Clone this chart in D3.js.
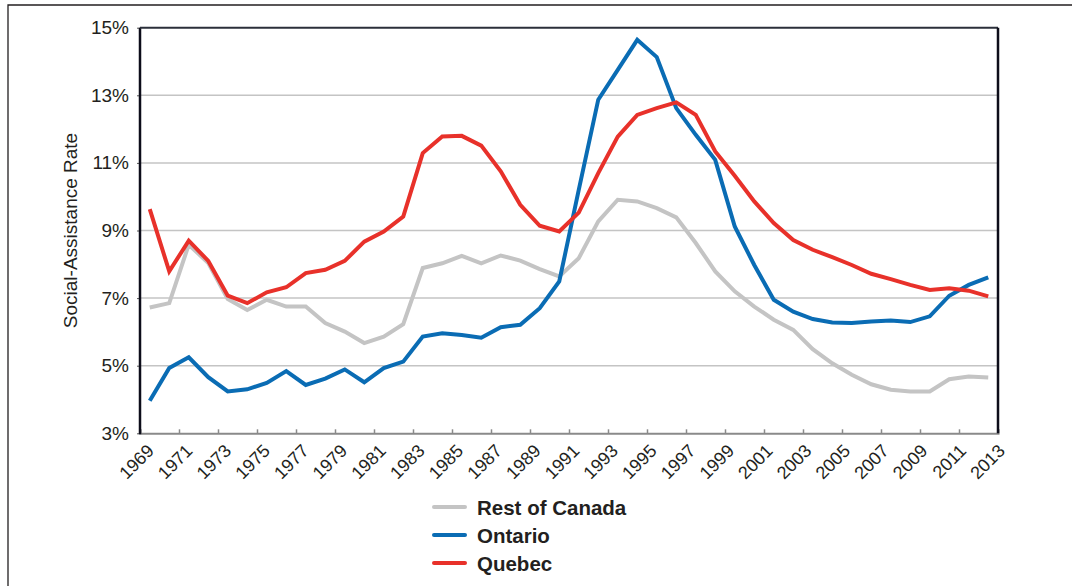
<!DOCTYPE html>
<html>
<head>
<meta charset="utf-8">
<script src="https://cdn.jsdelivr.net/npm/d3@7/dist/d3.min.js"></script>
<style>
  html, body { margin: 0; padding: 0; background: #fff; }
  svg { display: block; font-family: "Liberation Sans", Arial, Helvetica, sans-serif; }
</style>
</head>
<body>
<svg id="chart" width="1072" height="586"></svg>
<script>
// ---- data ----
const years = d3.range(1969, 2013); // 1969..2012 (44 observations)
const tickLabelYears = d3.range(1969, 2014, 2); // 1969, 1971, ..., 2013
const yTicks = [3, 5, 7, 9, 11, 13, 15];

const restOfCanada = [6.72, 6.85, 8.58, 8.04, 6.97, 6.65, 6.95, 6.75, 6.75, 6.26,
  6.01, 5.67, 5.86, 6.23, 7.89, 8.03, 8.25, 8.03, 8.26, 8.11,
  7.86, 7.64, 8.18, 9.27, 9.91, 9.86, 9.66, 9.39, 8.63, 7.79,
  7.20, 6.75, 6.36, 6.06, 5.49, 5.07, 4.73, 4.45, 4.29, 4.24,
  4.24, 4.60, 4.68, 4.65];
const ontario = [3.96, 4.93, 5.25, 4.66, 4.24, 4.30, 4.49, 4.84, 4.43, 4.62,
  4.89, 4.51, 4.93, 5.12, 5.86, 5.96, 5.91, 5.83, 6.14, 6.21,
  6.70, 7.49, 10.2, 12.87, 13.75, 14.64, 14.13, 12.62, 11.83, 11.09,
  9.12, 7.98, 6.95, 6.60, 6.38, 6.28, 6.26, 6.31, 6.34, 6.29,
  6.46, 7.07, 7.39, 7.61];
const quebec = [9.63, 7.79, 8.70, 8.10, 7.07, 6.85, 7.17, 7.32, 7.74, 7.84,
  8.10, 8.67, 8.97, 9.41, 11.29, 11.78, 11.80, 11.51, 10.75, 9.76,
  9.14, 8.97, 9.53, 10.70, 11.78, 12.42, 12.62, 12.79, 12.42, 11.34,
  10.62, 9.86, 9.22, 8.72, 8.43, 8.21, 7.98, 7.72, 7.56, 7.39,
  7.24, 7.29, 7.22, 7.05];

const seriesNames = ["Rest of Canada", "Ontario", "Quebec"];
const seriesColors = ["#c4c4c4", "#0a6cb4", "#e8312a"];
const seriesValues = [restOfCanada, ontario, quebec];

// ---- layout ----
const svg = d3.select("#chart");
const pLeft = 140, pRight = 998, pTop = 27.7, pBottom = 433.3;

const x = d3.scaleBand().domain(years).range([pLeft, pRight]).padding(0);
const xTicks = d3.scaleLinear().domain([0, years.length]).range([pLeft, pRight]);
const xLab = d3.scalePoint().domain(tickLabelYears).range([155, 1006]);
const y = d3.scaleLinear().domain([3, 15]).range([pBottom, pTop]);

// outer frame
svg.append("path")
  .attr("d", `M8,590 L8,5 L1075,5`)
  .attr("fill", "none").attr("stroke", "#231f20").attr("stroke-width", 1.3);

// gridlines
svg.append("g").selectAll("line")
  .data(yTicks.filter(d => d > 3 && d < 15))
  .join("line")
  .attr("x1", pLeft).attr("x2", pRight)
  .attr("y1", d => y(d)).attr("y2", d => y(d))
  .attr("stroke", "#c4c4c4").attr("stroke-width", 1.5);

// y axis
const yAxis = svg.append("g")
  .attr("transform", `translate(${pLeft},0)`)
  .call(d3.axisLeft(y).tickValues(yTicks).tickSize(3).tickPadding(8).tickFormat(d => d + "%"));
yAxis.select(".domain").remove();
yAxis.selectAll(".tick line").attr("stroke", "#555").attr("stroke-width", 1);
yAxis.selectAll(".tick text")
  .attr("font-size", 19).attr("fill", "#231f20")
  .attr("font-family", '"Liberation Sans", Arial, sans-serif');

// y title
svg.append("text")
  .attr("transform", `translate(77,${(pTop + pBottom) / 2}) rotate(-90)`)
  .attr("text-anchor", "middle")
  .attr("font-size", 19).attr("fill", "#231f20")
  .text("Social-Assistance Rate");

// x axis (ticks at band boundaries every two years, pointing inward)
const xAxis = svg.append("g")
  .attr("transform", `translate(0,${pBottom})`)
  .call(d3.axisBottom(xTicks).tickValues(d3.range(0, years.length + 1, 2)).tickSize(-4).tickFormat(""));
xAxis.select(".domain").attr("stroke", "#8a8a8a").attr("stroke-width", 2);
xAxis.selectAll(".tick line").attr("stroke", "#8a8a8a").attr("stroke-width", 1.5);

// x labels, rotated
svg.append("g").selectAll("text")
  .data(tickLabelYears)
  .join("text")
  .attr("transform", d => `translate(${xLab(d)},452) rotate(-45)`)
  .attr("text-anchor", "end")
  .attr("font-size", 18).attr("fill", "#231f20")
  .text(d => d);

// plot frame: left, top, right
svg.append("line").attr("x1", pLeft).attr("x2", pLeft).attr("y1", pTop).attr("y2", pBottom + 1)
  .attr("stroke", "#0d0d1a").attr("stroke-width", 2.5);
svg.append("line").attr("x1", pLeft).attr("x2", pRight).attr("y1", pTop).attr("y2", pTop)
  .attr("stroke", "#2b2f3a").attr("stroke-width", 2);
svg.append("line").attr("x1", pRight).attr("x2", pRight).attr("y1", pTop).attr("y2", pBottom)
  .attr("stroke", "#0d0d1a").attr("stroke-width", 2.5);

// lines
const line = d3.line()
  .x((d, i) => x(years[i]) + x.bandwidth() / 2)
  .y(d => y(d));

svg.append("g").selectAll("path")
  .data(seriesValues)
  .join("path")
  .attr("d", d => line(d))
  .attr("fill", "none")
  .attr("stroke", (d, i) => seriesColors[i])
  .attr("stroke-width", 4)
  .attr("stroke-linejoin", "miter")
  .attr("stroke-linecap", "butt");

// legend
const legend = svg.append("g");
const legY = d3.scalePoint().domain(seriesNames).range([507, 563]);
legend.selectAll("line")
  .data(seriesNames)
  .join("line")
  .attr("x1", 434).attr("x2", 465)
  .attr("y1", d => legY(d)).attr("y2", d => legY(d))
  .attr("stroke", (d, i) => seriesColors[i])
  .attr("stroke-width", 4).attr("stroke-linecap", "round");
legend.selectAll("text")
  .data(seriesNames)
  .join("text")
  .attr("x", 477)
  .attr("y", d => legY(d) + 7.5)
  .attr("font-size", 20.5).attr("font-weight", "bold").attr("fill", "#231f20")
  .text(d => d);
</script>
</body>
</html>
